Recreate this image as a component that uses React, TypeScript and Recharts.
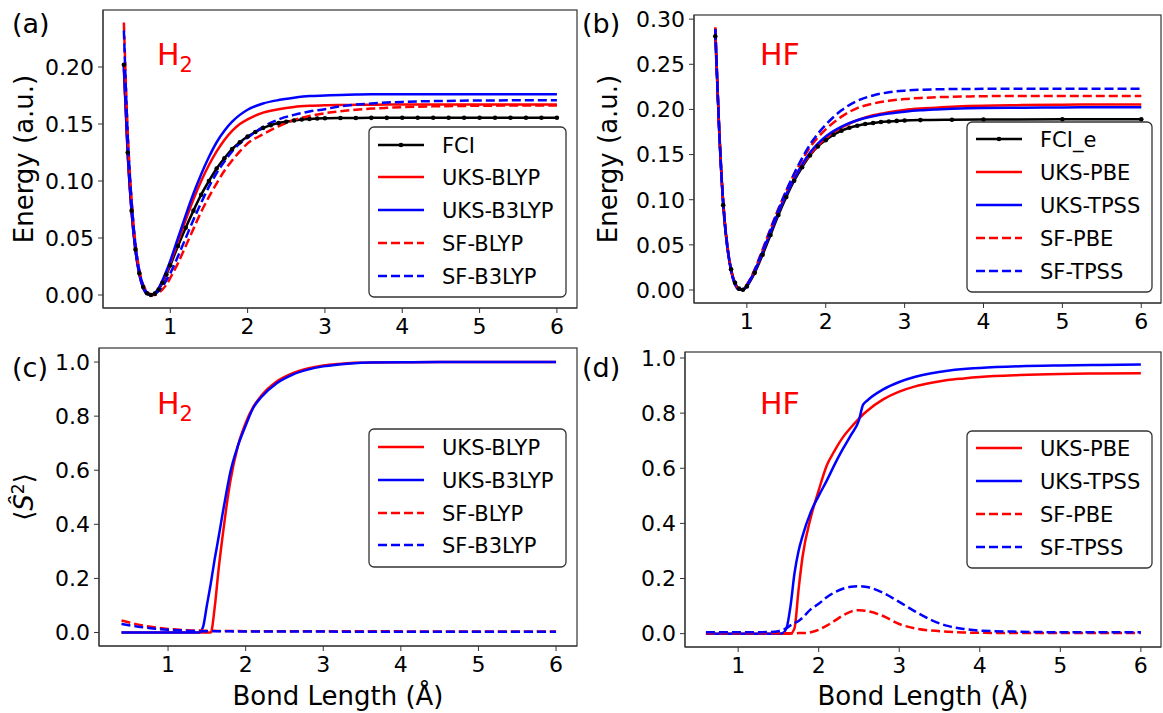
import React from 'react';
import { LineChart, Line, XAxis, YAxis } from 'recharts';

const FONT = 'DejaVu Sans';
const RED = '#ff0000';
const BLUE = '#0000ff';
const FRAME = '#333333';

// ---- (a) H2 energy ----
const H2_FCI_X = [0.4, 0.45, 0.5, 0.55, 0.6, 0.65, 0.7, 0.75, 0.8, 0.85, 0.9, 0.95, 1.0, 1.1, 1.2, 1.3, 1.4, 1.5, 1.6, 1.7, 1.8, 1.9, 2.0, 2.1, 2.2, 2.3, 2.4, 2.5, 2.6, 2.7, 2.8, 2.9, 3.0, 3.2, 3.4, 3.6, 3.8, 4.0, 4.2, 4.4, 4.6, 4.8, 5.0, 5.2, 5.4, 5.6, 5.8, 6.0];
const H2_FCI = [0.202, 0.125, 0.074, 0.04, 0.019, 0.007, 0.0015, 0.0, 0.0012, 0.0048, 0.0108, 0.018, 0.026, 0.043, 0.059, 0.074, 0.088, 0.1, 0.111, 0.12, 0.128, 0.134, 0.139, 0.143, 0.1465, 0.149, 0.1508, 0.152, 0.1531, 0.1539, 0.1544, 0.1548, 0.155, 0.1552, 0.1553, 0.1554, 0.1554, 0.1555, 0.1555, 0.1555, 0.1555, 0.1555, 0.1555, 0.1555, 0.1555, 0.1555, 0.1555, 0.1555];

const H2_X = [0.4, 0.45, 0.5, 0.55, 0.6, 0.65, 0.7, 0.75, 0.8, 0.85, 0.9, 0.95, 1.0, 1.1, 1.2, 1.3, 1.4, 1.5, 1.6, 1.7, 1.8, 1.9, 2.0, 2.2, 2.4, 2.6, 2.8, 3.0, 3.2, 3.4, 3.6, 3.8, 4.0, 4.5, 5.0, 5.5, 6.0];
const H2_UKS_BLYP = [0.198, 0.122, 0.072, 0.039, 0.018, 0.006, 0.001, 0.0, 0.0015, 0.0055, 0.012, 0.019, 0.028, 0.047, 0.066, 0.084, 0.1, 0.114, 0.126, 0.136, 0.144, 0.15, 0.154, 0.16, 0.163, 0.165, 0.166, 0.1665, 0.1667, 0.1668, 0.1669, 0.167, 0.167, 0.167, 0.167, 0.167, 0.167];
const H2_UKS_B3LYP = [0.2, 0.124, 0.073, 0.039, 0.018, 0.006, 0.001, 0.0, 0.0015, 0.006, 0.013, 0.021, 0.03, 0.05, 0.07, 0.089, 0.106, 0.121, 0.134, 0.144, 0.152, 0.158, 0.1625, 0.168, 0.171, 0.173, 0.1745, 0.175, 0.1755, 0.1758, 0.176, 0.176, 0.176, 0.176, 0.176, 0.176, 0.176];
const H2_SF_BLYP = [0.239, 0.143, 0.084, 0.045, 0.022, 0.009, 0.003, 0.0005, 0.0, 0.002, 0.005, 0.009, 0.015, 0.028, 0.043, 0.058, 0.073, 0.086, 0.098, 0.109, 0.118, 0.126, 0.133, 0.141, 0.148, 0.1535, 0.157, 0.1595, 0.1612, 0.1625, 0.1635, 0.1642, 0.1648, 0.1656, 0.166, 0.1662, 0.1663];
const H2_SF_B3LYP = [0.232, 0.14, 0.082, 0.044, 0.021, 0.008, 0.002, 0.0, 0.001, 0.0035, 0.0075, 0.013, 0.019, 0.034, 0.05, 0.066, 0.081, 0.095, 0.107, 0.117, 0.126, 0.133, 0.138, 0.1475, 0.154, 0.158, 0.161, 0.163, 0.1655, 0.167, 0.168, 0.1688, 0.1694, 0.1702, 0.1706, 0.1708, 0.1709];

// ---- (b) HF energy ----
const HF_FCI_X = [0.6, 0.7, 0.8, 0.85, 0.9, 0.95, 1.0, 1.1, 1.2, 1.3, 1.4, 1.5, 1.6, 1.7, 1.8, 1.9, 2.0, 2.1, 2.2, 2.3, 2.4, 2.5, 2.6, 2.7, 2.8, 2.9, 3.0, 3.2, 3.6, 4.0, 5.0, 6.0];
const HF_FCI = [0.281, 0.094, 0.023, 0.008, 0.0015, 0.0003, 0.004, 0.019, 0.039, 0.061, 0.083, 0.103, 0.121, 0.136, 0.149, 0.159, 0.166, 0.172, 0.1765, 0.1797, 0.182, 0.1838, 0.185, 0.186, 0.1867, 0.1873, 0.1877, 0.1882, 0.1886, 0.1888, 0.189, 0.189];

const HF_X = [0.6, 0.65, 0.7, 0.75, 0.8, 0.85, 0.9, 0.95, 1.0, 1.1, 1.2, 1.3, 1.4, 1.5, 1.6, 1.7, 1.8, 1.9, 2.0, 2.2, 2.4, 2.6, 2.8, 3.0, 3.2, 3.4, 3.6, 3.8, 4.0, 4.5, 5.0, 5.5, 6.0];
const HF_UKS_PBE = [0.29, 0.175, 0.097, 0.05, 0.022, 0.0065, 0.0005, 0.0005, 0.005, 0.021, 0.042, 0.064, 0.086, 0.106, 0.123, 0.138, 0.15, 0.16, 0.168, 0.18, 0.188, 0.1935, 0.197, 0.1995, 0.201, 0.202, 0.203, 0.2037, 0.2042, 0.2048, 0.2053, 0.2055, 0.2056];
const HF_UKS_TPSS = [0.289, 0.174, 0.096, 0.049, 0.021, 0.006, 0.0005, 0.0005, 0.005, 0.021, 0.042, 0.064, 0.086, 0.106, 0.123, 0.139, 0.152, 0.162, 0.17, 0.181, 0.188, 0.1925, 0.1955, 0.1975, 0.199, 0.2, 0.2008, 0.2013, 0.2016, 0.202, 0.2022, 0.2024, 0.2024];
const HF_SF_PBE = [0.291, 0.178, 0.1, 0.052, 0.023, 0.007, 0.001, 0.0005, 0.006, 0.023, 0.045, 0.068, 0.09, 0.11, 0.128, 0.144, 0.158, 0.169, 0.178, 0.192, 0.2015, 0.2065, 0.2095, 0.2115, 0.2127, 0.2135, 0.214, 0.2144, 0.2147, 0.2149, 0.215, 0.215, 0.215];
const HF_SF_TPSS = [0.289, 0.176, 0.098, 0.051, 0.022, 0.0065, 0.0008, 0.0005, 0.0055, 0.022, 0.044, 0.067, 0.089, 0.11, 0.129, 0.146, 0.161, 0.173, 0.183, 0.199, 0.2095, 0.2155, 0.219, 0.2208, 0.2218, 0.2223, 0.2226, 0.2227, 0.2228, 0.2229, 0.223, 0.223, 0.223];

// ---- (c) H2 <S^2> ----
const H2S_X = [0.4, 0.6, 0.8, 1.0, 1.2, 1.4, 1.45, 1.5, 1.55, 1.6, 1.65, 1.7, 1.75, 1.8, 1.9, 2.0, 2.1, 2.2, 2.4, 2.6, 2.8, 3.0, 3.2, 3.4, 3.6, 4.0, 4.5, 5.0, 5.5, 6.0];
const H2S_UKS_BLYP = [0, 0, 0, 0, 0, 0, 0, 0, 0, 0.09, 0.23, 0.35, 0.46, 0.555, 0.69, 0.775, 0.835, 0.875, 0.928, 0.958, 0.976, 0.987, 0.993, 0.997, 0.998, 0.999, 1, 1, 1, 1];
const H2S_UKS_B3LYP = [0, 0, 0, 0, 0, 0, 0.02, 0.1, 0.18, 0.27, 0.35, 0.435, 0.515, 0.59, 0.69, 0.765, 0.832, 0.87, 0.922, 0.953, 0.972, 0.984, 0.991, 0.996, 0.998, 0.999, 1, 1, 1, 1];
const H2S_SF_BLYP = [0.044, 0.03, 0.02, 0.013, 0.009, 0.007, 0.0068, 0.0065, 0.0062, 0.006, 0.0058, 0.0056, 0.0055, 0.0054, 0.0052, 0.005, 0.005, 0.005, 0.0048, 0.0046, 0.0045, 0.0044, 0.0043, 0.0042, 0.0042, 0.0041, 0.004, 0.004, 0.004, 0.004];
const H2S_SF_B3LYP = [0.032, 0.022, 0.015, 0.01, 0.007, 0.005, 0.005, 0.0048, 0.0046, 0.0045, 0.0044, 0.0043, 0.0042, 0.0041, 0.004, 0.0038, 0.0037, 0.0036, 0.0035, 0.0034, 0.0033, 0.0032, 0.0031, 0.003, 0.003, 0.003, 0.003, 0.003, 0.003, 0.003];

// ---- (d) HF <S^2> ----
const HFS_X = [0.6, 0.8, 1.0, 1.2, 1.4, 1.5, 1.55, 1.6, 1.65, 1.7, 1.75, 1.8, 1.9, 2.0, 2.1, 2.2, 2.3, 2.4, 2.5, 2.55, 2.6, 2.8, 3.0, 3.2, 3.4, 3.6, 3.8, 4.0, 4.5, 5.0, 5.5, 6.0];
const HFS_UKS_PBE = [0, 0, 0, 0, 0, 0, 0, 0, 0, 0.02, 0.16, 0.28, 0.42, 0.52, 0.61, 0.665, 0.712, 0.748, 0.78, 0.795, 0.808, 0.85, 0.878, 0.897, 0.91, 0.92, 0.926, 0.931, 0.938, 0.942, 0.944, 0.945];
const HFS_UKS_TPSS = [0, 0, 0, 0, 0, 0, 0.002, 0.02, 0.1, 0.22, 0.3, 0.355, 0.44, 0.5, 0.555, 0.615, 0.67, 0.72, 0.775, 0.83, 0.845, 0.886, 0.913, 0.932, 0.945, 0.954, 0.96, 0.964, 0.97, 0.973, 0.975, 0.976];
const HFS_SF_PBE = [0.001, 0.001, 0.001, 0.001, 0.001, 0.001, 0.001, 0.001, 0.001, 0.001, 0.002, 0.002, 0.005, 0.014, 0.029, 0.047, 0.066, 0.08, 0.085, 0.084, 0.082, 0.064, 0.035, 0.019, 0.011, 0.007, 0.004, 0.003, 0.002, 0.002, 0.002, 0.002];
const HFS_SF_TPSS = [0.005, 0.005, 0.005, 0.005, 0.006, 0.009, 0.013, 0.02, 0.03, 0.038, 0.046, 0.058, 0.088, 0.108, 0.132, 0.15, 0.163, 0.17, 0.172, 0.171, 0.169, 0.148, 0.115, 0.08, 0.049, 0.028, 0.017, 0.011, 0.007, 0.005, 0.005, 0.005];

const X_TICKS = [1, 2, 3, 4, 5, 6];

const pts = (xs: number[], ys: number[]) => xs.map((x, i) => ({ x, y: ys[i] }));

type Series = { name: string; data: { x: number; y: number }[]; color: string; dashed?: boolean; dots?: boolean };

const tickStyle = { fontSize: 22, fill: '#000', fontFamily: FONT };
const PAD = 14;

function Panel(props: {
  fx0: number; fx1: number; fy0: number; fy1: number; yW: number;
  xDomain: [number, number]; yDomain: [number, number]; yTicks: number[]; digits: number;
  series: Series[];
}) {
  const { fx0, fx1, fy0, fy1, yW, xDomain, yDomain, yTicks, digits, series } = props;
  const left = fx0 - yW;
  const width = fx1 - fx0 + yW + 2;
  const height = fy1 - fy0 + PAD + 45;
  return (
    <div style={{ position: 'absolute', left, top: fy0 - PAD }}>
      <LineChart width={width} height={height} margin={{ top: PAD, right: 2, bottom: 0, left: 0 }}>
        <XAxis type="number" dataKey="x" domain={xDomain} ticks={X_TICKS} allowDataOverflow height={45}
          tickSize={5} tickMargin={5} stroke={FRAME} tick={tickStyle} interval={0} />
        <YAxis type="number" domain={yDomain} ticks={yTicks} allowDataOverflow width={yW} interval={0}
          tickSize={5} tickMargin={4} stroke={FRAME} tick={tickStyle} tickFormatter={(v: number) => v.toFixed(digits)} />
        {series.map((s) => (
          <Line key={s.name} data={s.data} dataKey="y" type="monotone" stroke={s.color} strokeWidth={2.5}
            strokeDasharray={s.dashed ? '9 4' : undefined}
            dot={s.dots ? { r: 2.3, fill: s.color, stroke: s.color, strokeWidth: 0 } : false}
            isAnimationActive={false} />
        ))}
      </LineChart>
    </div>
  );
}

function Legend(props: { x: number; y: number; w: number; h: number; rows: number[]; series: Series[] }) {
  const { x, y, w, h, rows, series } = props;
  return (
    <g>
      <rect x={x} y={y} width={w} height={h} rx={5} fill="#fff" fillOpacity={0.85} stroke={FRAME} strokeWidth={1.3} />
      {series.map((s, i) => (
        <g key={s.name}>
          <line x1={x + 9} x2={x + 55} y1={rows[i]} y2={rows[i]} stroke={s.color} strokeWidth={2.5}
            strokeDasharray={s.dashed ? '9 4' : undefined} />
          {s.dots && <circle cx={x + 32} cy={rows[i]} r={2.3} fill={s.color} />}
          <text x={x + 73} y={rows[i] + 7.5} fontSize={21} fontFamily={FONT} fill="#000">{s.name}</text>
        </g>
      ))}
    </g>
  );
}

export default function App() {
  const sa: Series[] = [
    { name: 'FCI', data: pts(H2_FCI_X, H2_FCI), color: '#000', dots: true },
    { name: 'UKS-BLYP', data: pts(H2_X, H2_UKS_BLYP), color: RED },
    { name: 'UKS-B3LYP', data: pts(H2_X, H2_UKS_B3LYP), color: BLUE },
    { name: 'SF-BLYP', data: pts(H2_X, H2_SF_BLYP), color: RED, dashed: true },
    { name: 'SF-B3LYP', data: pts(H2_X, H2_SF_B3LYP), color: BLUE, dashed: true },
  ];
  const sb: Series[] = [
    { name: 'FCI_e', data: pts(HF_FCI_X, HF_FCI), color: '#000', dots: true },
    { name: 'UKS-PBE', data: pts(HF_X, HF_UKS_PBE), color: RED },
    { name: 'UKS-TPSS', data: pts(HF_X, HF_UKS_TPSS), color: BLUE },
    { name: 'SF-PBE', data: pts(HF_X, HF_SF_PBE), color: RED, dashed: true },
    { name: 'SF-TPSS', data: pts(HF_X, HF_SF_TPSS), color: BLUE, dashed: true },
  ];
  const sc: Series[] = [
    { name: 'UKS-BLYP', data: pts(H2S_X, H2S_UKS_BLYP), color: RED },
    { name: 'UKS-B3LYP', data: pts(H2S_X, H2S_UKS_B3LYP), color: BLUE },
    { name: 'SF-BLYP', data: pts(H2S_X, H2S_SF_BLYP), color: RED, dashed: true },
    { name: 'SF-B3LYP', data: pts(H2S_X, H2S_SF_B3LYP), color: BLUE, dashed: true },
  ];
  const sd: Series[] = [
    { name: 'UKS-PBE', data: pts(HFS_X, HFS_UKS_PBE), color: RED },
    { name: 'UKS-TPSS', data: pts(HFS_X, HFS_UKS_TPSS), color: BLUE },
    { name: 'SF-PBE', data: pts(HFS_X, HFS_SF_PBE), color: RED, dashed: true },
    { name: 'SF-TPSS', data: pts(HFS_X, HFS_SF_TPSS), color: BLUE, dashed: true },
  ];

  const label = { fontFamily: FONT, fill: '#000' };
  // plot frames: [x0, y0, x1, y1]
  const frames = [[103, 10, 577, 308], [694, 15, 1161, 303], [99, 348, 577, 646], [685, 352, 1161, 647]];

  return (
    <div style={{ position: 'absolute', left: 0, top: 0, width: 1163, height: 713, background: '#fff', fontFamily: FONT }}>
      <Panel fx0={103} fx1={577} fy0={10} fy1={308} yW={103} xDomain={[0.13, 6.26]} yDomain={[-0.0114, 0.25]}
        yTicks={[0, 0.05, 0.1, 0.15, 0.2]} digits={2} series={sa} />
      <Panel fx0={694} fx1={1161} fy0={15} fy1={303} yW={100} xDomain={[0.33, 6.25]} yDomain={[-0.0144, 0.3046]}
        yTicks={[0, 0.05, 0.1, 0.15, 0.2, 0.25, 0.3]} digits={2} series={sb} />
      <Panel fx0={99} fx1={577} fy0={348} fy1={646} yW={99} xDomain={[0.11, 6.27]} yDomain={[-0.05, 1.052]}
        yTicks={[0, 0.2, 0.4, 0.6, 0.8, 1.0]} digits={1} series={sc} />
      <Panel fx0={685} fx1={1161} fy0={352} fy1={647} yW={100} xDomain={[0.34, 6.25]} yDomain={[-0.0485, 1.0218]}
        yTicks={[0, 0.2, 0.4, 0.6, 0.8, 1.0]} digits={1} series={sd} />

      <svg width={1163} height={713} style={{ position: 'absolute', left: 0, top: 0, pointerEvents: 'none' }}>
        {frames.map(([x0, y0, x1, y1], i) => (
          <rect key={i} x={x0} y={y0} width={x1 - x0} height={y1 - y0} fill="none" stroke={FRAME} strokeWidth={1.2} />
        ))}
        <text x={12} y={33} fontSize={27} {...label}>(a)</text>
        <text x={582} y={33} fontSize={27} {...label}>(b)</text>
        <text x={12} y={377} fontSize={27} {...label}>(c)</text>
        <text x={582} y={377} fontSize={27} {...label}>(d)</text>

        <text x={157} y={65} fontSize={30} fontFamily={FONT} fill={RED}>H<tspan dy={7} fontSize={21}>2</tspan></text>
        <text x={760} y={65} fontSize={30} fontFamily={FONT} fill={RED}>HF</text>
        <text x={157} y={414} fontSize={30} fontFamily={FONT} fill={RED}>H<tspan dy={7} fontSize={21}>2</tspan></text>
        <text x={760} y={414} fontSize={30} fontFamily={FONT} fill={RED}>HF</text>

        <text transform="translate(33,159) rotate(-90)" textAnchor="middle" fontSize={26} {...label}>Energy (a.u.)</text>
        <text transform="translate(617,159) rotate(-90)" textAnchor="middle" fontSize={26} {...label}>Energy (a.u.)</text>
        <text transform="translate(33,497) rotate(-90)" textAnchor="middle" fontSize={26} {...label}>
          ⟨<tspan fontStyle="italic">Ŝ</tspan><tspan dy={-9} fontSize={17}>2</tspan><tspan dy={9}>⟩</tspan>
        </text>
        <text x={338} y={705} textAnchor="middle" fontSize={26} {...label}>Bond Length (Å)</text>
        <text x={923} y={705} textAnchor="middle" fontSize={26} {...label}>Bond Length (Å)</text>

        <Legend x={369} y={127} w={197} h={170} rows={[145, 177, 210, 243, 276]} series={sa} />
        <Legend x={967} y={122} w={185} h={170} rows={[139, 172, 205, 238, 271]} series={sb} />
        <Legend x={369} y={429} w={197} h={138} rows={[447, 480, 513, 545]} series={sc} />
        <Legend x={967} y={431} w={185} h={137} rows={[448, 481, 514, 547]} series={sd} />
      </svg>
    </div>
  );
}
